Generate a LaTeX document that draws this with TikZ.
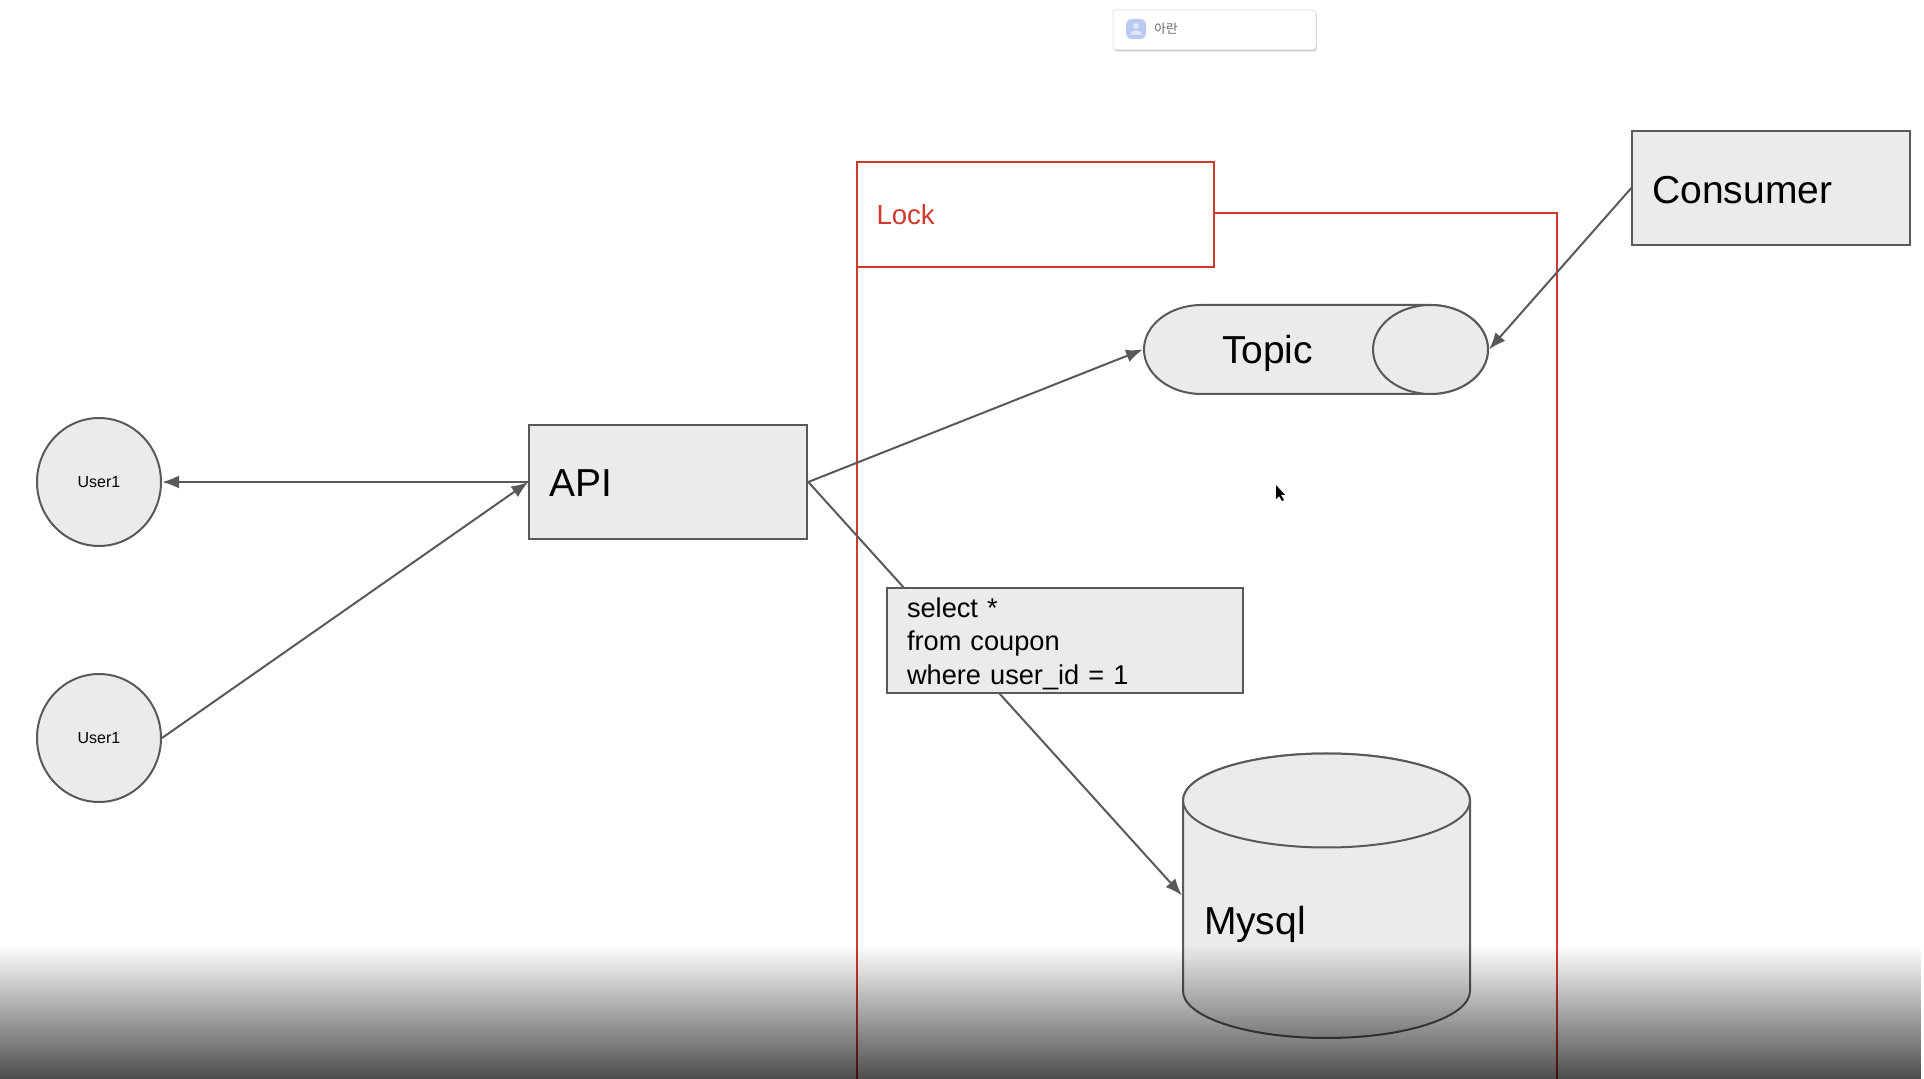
\documentclass[tikz,border=0pt]{standalone}
\usepackage{fontspec}
\setmainfont{Liberation Sans}
\newfontfamily\cardfont{Noto Sans CJK KR}
\usetikzlibrary{arrows.meta,positioning,shapes.geometric,shadows,fadings}
\definecolor{linegray}{HTML}{595959}
\definecolor{boxgray}{HTML}{EBEBEB}
\definecolor{lockred}{HTML}{CF3A2E}
\definecolor{avatarblue}{HTML}{B9C9F0}
\tikzset{
mybox/.style={
  rectangle,
  draw=linegray,
  fill=boxgray,
  line width=1pt,
  inner xsep=10pt,
  inner ysep=0pt,
  align=left,
  text height=16pt,
  text depth=0pt,
  font=\fontsize{19.5}{23}\selectfont
  },
myuser/.style={
  ellipse,
  draw=linegray,
  fill=boxgray,
  line width=1pt,
  inner sep=0pt,
  minimum width=62pt,
  minimum height=64pt,
  font=\fontsize{8}{10}\selectfont
  },
mytext/.style={
  rectangle,
  line width=1pt,
  inner ysep=0pt,
  align=left,
  text height=14.5pt,
  text depth=0pt,
  font=\fontsize{19.5}{23}\selectfont
  },
myshape/.style={
  draw=linegray,
  fill=boxgray,
  line width=1pt
  },
myline/.style={
  draw=linegray,
  line width=1pt
  }
}
\tikzfading[name=bottomfade,top color=transparent!100,bottom color=transparent!30]

\begin{document}
\begin{tikzpicture}[x=0.5pt,y=-0.5pt,>={Latex[length=8.5pt,width=6.5pt]}]
\useasboundingbox (0,0) rectangle (1924,1079);

\draw[lockred,line width=1pt] (856.5,1079) -- (856.5,213) -- (1557,213) -- (1557,1079);
\node[rectangle,draw=lockred,fill=white,line width=1pt,inner xsep=10pt,inner ysep=0pt,
    text=lockred,align=left,text width=158.5pt,minimum height=52.5pt,text height=10.5pt,text depth=0pt,
    font=\fontsize{13.8}{16}\selectfont] (lockbox) at (1035,214.5) {Lock};

\node[mybox,text width=119pt,minimum height=57pt,text height=15pt] (api) at (668.3,482) {API};
\node[mybox,text width=119pt,minimum height=57pt] (consumer) at (1771.3,188) {Consumer};
\node[myuser] (usera) at (99,482) {User1};
\node[myuser] (userb) at (99,738) {User1};

\draw[myshape] (1201.5,305) arc[start angle=-90,end angle=-270,x radius=57.5,y radius=44.5]
    -- (1430.5,394) arc[start angle=90,end angle=-90,x radius=57.5,y radius=44.5] -- cycle;
\draw[myshape] (1430.5,349.5) ellipse [x radius=57.5,y radius=44.5];
\node[mytext,inner xsep=39pt,text width=94pt,minimum height=44.5pt] (topic) at (1316,349.5) {Topic};

\draw[myshape] (1183,800.5) -- (1183,991) arc[start angle=180,end angle=0,x radius=143.5,y radius=47]
    -- (1470,800.5) arc[start angle=0,end angle=-180,x radius=143.5,y radius=47] -- cycle;
\draw[myshape] (1326.5,800.5) ellipse [x radius=143.5,y radius=47];
\node[mytext,inner xsep=10.5pt,text width=122.5pt,minimum height=142.5pt,text height=39pt] (db) at (1326.5,895.5) {Mysql};

\draw[->,myline] (api.west) -- (usera.east);
\draw[->,myline] (userb.east) -- (api.west);
\draw[->,myline] (api.east) -- (topic.west);
\draw[->,myline] (consumer.west) -- (topic.east);
\draw[->,myline] (api.east) -- (db.west);

\node[mybox,text width=158pt,minimum height=52.5pt,text height=,text depth=,
    font=\fontsize{13.6}{16.7}\selectfont] (query) at (1065,640.5)
{\rule{0pt}{13pt}select *\\from coupon\\where user\_id = 1};

\node[rectangle,rounded corners=1.5pt,draw=black!10,fill=white,line width=.5pt,
    minimum width=101.5pt,minimum height=20pt,
    drop shadow={opacity=.5,shadow xshift=.4pt,shadow yshift=-.7pt}] (card) at (1214.5,30) {};
\node[rectangle,rounded corners=3pt,fill=avatarblue,minimum size=10pt,inner sep=0pt] (avatar) at (1136,29) {};
\fill[white!55!avatarblue] (1136,26) circle (3);
\fill[white!55!avatarblue,rounded corners=1pt] (1130,35) -- (1131,31) -- (1141,31) -- (1142,35) -- cycle;
\node[anchor=west,inner sep=0pt,text=black!60,font=\cardfont\fontsize{6.3}{8}\selectfont,right=3.8pt of avatar] (cardname) {아란};

\fill[black] (1276,485) -- (1276,499) -- (1279,496) -- (1282,501) -- (1284,500) -- (1281,495) -- (1285,495) -- cycle;

\fill[black,path fading=bottomfade] (0,945) rectangle (1924,1079);
\end{tikzpicture}
\end{document}
